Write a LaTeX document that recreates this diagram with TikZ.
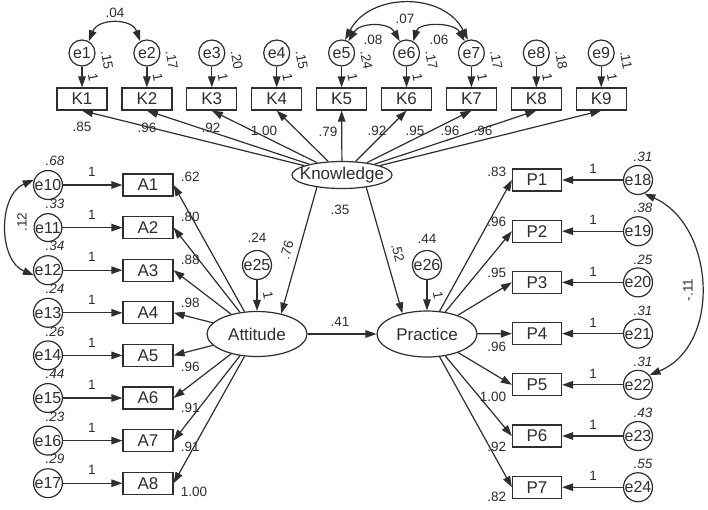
\documentclass[tikz,border=0pt]{standalone}
\usepackage{fontspec}
\setmainfont{Liberation Sans}
\usetikzlibrary{arrows.meta,shapes.geometric}
\definecolor{Ink}{HTML}{2E2E2E}

\begin{document}
\begin{tikzpicture}[x=1pt,y=-1pt,line width=1.2pt,color=Ink,
      font=\fontsize{13.5}{15}\selectfont,
      item/.style={draw=Ink,minimum width=50pt,minimum height=22pt,
                   inner sep=0pt,font=\fontsize{17}{19}\selectfont},
      resid/.style={circle,draw=Ink,minimum size=26pt,inner sep=0pt,
                    font=\fontsize{16}{18}\selectfont},
      factor/.style={ellipse,draw=Ink,minimum width=100pt,minimum height=45pt,
                     inner xsep=-8pt,inner ysep=0pt,
                     font=\fontsize{17}{19}\selectfont},
      load/.style={-{Triangle[length=11pt,width=7.5pt]}},
      corr/.style={{Triangle[length=11pt,width=7.5pt]}-{Triangle[length=11pt,width=7.5pt]}},
      var/.style={font=\itshape\fontsize{13.5}{15}\selectfont}]
    \path[use as bounding box,fill=white] (0,0) rectangle (708,509);

    % The three latent factors and the two structural residuals.
    \node[factor,minimum height=27pt] (know) at (342,175) {Knowledge};
    \node[factor] (att) at (257,334) {Attitude};
    \node[factor,minimum height=46pt] (prac) at (427,334) {Practice};
    \node[resid] (e25) at (257,265) {e25};
    \node[resid] (e26) at (427,265) {e26};

    % Knowledge items along the top row.
    \foreach \i/\v in {1/.15,2/.17,3/.20,4/.15,5/.24,6/.17,7/.17,8/.18,9/.11}{%
      \pgfmathsetmacro{\x}{82+64.9*(\i-1)}
      \node[item] (K\i) at (\x,99) {K\i};
      \node[resid] (e\i) at (\x,53) {e\i};
      \draw[load] (e\i) -- (K\i);
      \node[rotate=-80] at (\x+11,77) {1};
      \node[rotate=-80] at (\x+25,60) {\v};
    }
    \foreach \i/\x/\y/\r in {1/82/127/.85,2/147/128/.96,3/211/128/.92,
        4/264/131/1.00,5/328/132/.79,6/377/131/.92,7/415/131/.95,
        8/450/131/.96,9/483/131/.96}{%
      \draw[load] (know) -- (K\i.south);
      \node at (\x,\y) {\r};
    }

    % Attitude items on the left, Practice items on the right.
    \foreach \i/\v/\r/\ry in {1/.68/.62/177,2/.33/.80/217,3/.34/.88/260,
        4/.24/.98/303,5/.26/.96/367,6/.44/.91/408,7/.23/.91/447,
        8/.29/1.00/492}{%
      \pgfmathsetmacro{\y}{185+42.6*(\i-1)}
      \pgfmathtruncatemacro{\j}{\i+9}
      \node[item] (A\i) at (148,\y) {A\i};
      \node[resid] (e\j) at (48,\y) {e\j};
      \draw[load] (e\j) -- (A\i);
      \node at (92,\y-13) {1};
      \node[var] at (55,\y-24) {\v};
      \draw[load] (att) -- (A\i.east);
      \node[anchor=west] at (177,\ry) {\r};
    }
    \foreach \i/\v/\r/\ry in {1/.31/.83/172,2/.38/.96/222,3/.25/.95/273,
        4/.31/.96/347,5/.31/1.00/397,6/.43/.92/447,7/.55/.82/497}{%
      \pgfmathsetmacro{\y}{180+51.2*(\i-1)}
      \pgfmathtruncatemacro{\j}{\i+17}
      \node[item,minimum width=49pt] (P\i) at (537,\y) {P\i};
      \node[resid] (e\j) at (638,\y) {e\j};
      \draw[load] (e\j) -- (P\i);
      \node at (593,\y-11) {1};
      \node[var] at (643,\y-23) {\v};
      \draw[load] (prac) -- (P\i.west);
      \node[anchor=east] at (510,\ry) {\r};
    }

    % Structural paths.
    \draw[load] (know.206) -- (att.40);
    \node[rotate=74] at (287,250) {.76};
    \draw[load] (know.333) -- (prac.140);
    \node[rotate=-76] at (398,253) {.52};
    \node at (340,210) {.35};
    \draw[load] (att) -- (prac);
    \node at (340,322) {.41};
    \draw[load] (e25) -- (att);
    \node at (257,238) {.24};
    \node[rotate=-80] at (268,295) {1};
    \draw[load] (e26) -- (prac);
    \node at (427,239) {.44};
    \node[rotate=-80] at (438,295) {1};

    % Correlated residuals.
    \draw[corr] (e1.60) .. controls (98,18) and (132,18) .. (e2.120);
    \node at (115,13) {.04};
    \draw[corr] (e5.60) .. controls (360,22) and (389,22) .. (e6.120);
    \node at (373,40) {.08};
    \draw[corr] (e6.60) .. controls (419,22) and (454,22) .. (e7.120);
    \node at (439,40) {.06};
    \draw[corr] (e5.75) .. controls (370,-8) and (444,-8) .. (e7.105);
    \node at (405,19) {.07};
    \draw[corr] (e10.160) .. controls (-2,195) and (-2,260) .. (e12.200);
    \node[rotate=90] at (22,222) {.12};
    \draw[corr] (e18.-65) .. controls (715,225) and (722,345) .. (e22.40);
    \node[rotate=90] at (688,290) {-.11};
  \end{tikzpicture}
\end{document}
